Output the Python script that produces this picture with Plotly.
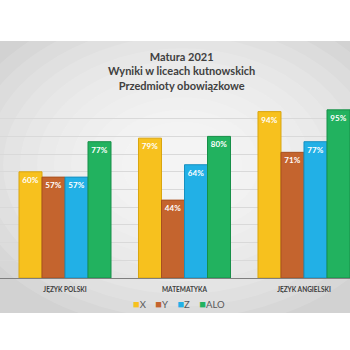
import plotly.graph_objects as go

categories = ["JĘZYK POLSKI", "MATEMATYKA", "JĘZYK ANGIELSKI"]
series_names = ["X", "Y", "Z", "ALO"]
values_x = [60, 79, 94]
values_y = [57, 44, 71]
values_z = [57, 64, 77]
values_alo = [77, 80, 95]
title_lines = ["Matura 2021", "Wyniki w liceach kutnowskich", "Przedmioty obowiązkowe"]

colors = ["#F7C11E", "#C4642E", "#22B0E6", "#22B25F"]
edge = ["#D9A50F", "#A8501F", "#1790C0", "#178F48"]
series = [values_x, values_y, values_z, values_alo]

W, H = 350, 350
plot_top, plot_bot = 101, 278
ph = plot_bot - plot_top

def py(p):
    return (plot_bot - p) / ph

def px(p):
    return p / W

fig = go.Figure()
for name, vals, c, e in zip(series_names, series, colors, edge):
    fig.add_trace(go.Bar(
        x=categories, y=vals, name=name,
        marker=dict(color=c, line=dict(color=e, width=1)),
        texttemplate="%{y}%", textposition="inside", insidetextanchor="end",
        textfont=dict(color="white", size=8, family="Lato", weight="bold"),
        showlegend=False,
    ))

shapes = [dict(type="rect", xref="paper", yref="paper", x0=0, x1=1,
               y0=py(313), y1=py(41), fillcolor="#d2d2d2", line_width=0, layer="below")]
cx, cy = 182, 165
for i in range(12):
    rx = 230 - i * 17
    ry = rx * 0.72
    shapes.append(dict(type="circle", xref="paper", yref="paper",
                       x0=px(cx - rx), x1=px(cx + rx), y0=py(cy + ry), y1=py(cy - ry),
                       fillcolor="white", opacity=0.13, line_width=0, layer="below"))

sp = "\u2002"
legend_html = (sp * 2).join(
    f"<span style='color:{c};font-size:11px'>■</span>{n}" for n, c in zip(series_names, colors))

fig.update_layout(
    width=W, height=H,
    margin=dict(l=0, r=0, t=plot_top, b=H - plot_bot),
    paper_bgcolor="white", plot_bgcolor="rgba(0,0,0,0)",
    barmode="group", bargap=0.23, bargroupgap=0,
    shapes=shapes,
    annotations=[
        dict(text="<br>".join(title_lines), xref="paper", yref="paper", x=px(181), y=py(71),
             xanchor="center", yanchor="middle", showarrow=False,
             font=dict(family="Lato", size=11, color="#404040", weight="bold")),
        dict(text=legend_html, xref="paper", yref="paper", x=px(179), y=py(303),
             xanchor="center", yanchor="middle", showarrow=False,
             font=dict(family="Lato", size=9.5, color="#595959")),
    ],
    xaxis=dict(range=[-0.544, 2.385], showline=True, linecolor="#7f7f7f", linewidth=1,
               tickfont=dict(family="Lato", size=6.5, color="#404040", weight="bold"),
               ticklabelstandoff=5, fixedrange=True),
    yaxis=dict(range=[0, 100], dtick=10, showticklabels=False, gridcolor="#d9d9d9",
               gridwidth=1, zeroline=False, fixedrange=True),
)

fig.write_html("out.html")
